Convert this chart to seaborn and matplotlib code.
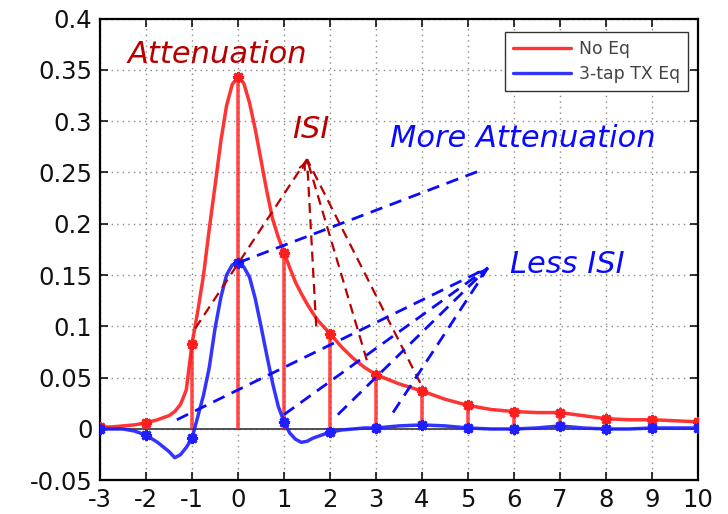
import numpy as np
import pandas as pd
import matplotlib
matplotlib.use("Agg")
import matplotlib.pyplot as plt
import seaborn as sns

# Pulse response samples (time in UI)
t_ui = [-3, -2.75, -2.5, -2.25, -2, -1.75, -1.5, -1.375, -1.25, -1.125,
        -1, -0.875, -0.75, -0.625, -0.5, -0.375, -0.25, -0.125,
        0, 0.125, 0.25, 0.375, 0.5, 0.625, 0.75, 0.875,
        1, 1.125, 1.25, 1.375, 1.5, 1.625, 1.75, 1.875,
        2, 2.25, 2.5, 2.75, 3, 3.5, 4, 4.5, 5, 5.5, 6, 6.5, 7, 7.5, 8, 8.5, 9, 9.5, 10]
no_eq = [0.002, 0.002, 0.003, 0.004, 0.006, 0.009, 0.013, 0.017, 0.024, 0.038,
         0.083, 0.115, 0.150, 0.195, 0.237, 0.280, 0.315, 0.336,
         0.343, 0.337, 0.318, 0.292, 0.262, 0.232, 0.205, 0.187,
         0.172, 0.157, 0.143, 0.132, 0.122, 0.113, 0.105, 0.099,
         0.093, 0.080, 0.069, 0.060, 0.053, 0.044, 0.037, 0.029, 0.023, 0.019, 0.017, 0.016,
         0.016, 0.013, 0.010, 0.009, 0.009, 0.008, 0.007]
tx_eq = [0.000, 0.000, 0.000, -0.002, -0.006, -0.013, -0.022, -0.028, -0.025, -0.018,
         -0.009, 0.012, 0.033, 0.060, 0.098, 0.128, 0.150, 0.160,
         0.162, 0.158, 0.148, 0.127, 0.100, 0.072, 0.045, 0.022,
         0.007, -0.004, -0.010, -0.013, -0.012, -0.009, -0.007, -0.005,
         -0.003, -0.001, 0.000, 0.001, 0.001, 0.003, 0.004, 0.003, 0.001, 0.000, 0.000, 0.001,
         0.003, 0.001, 0.000, 0.000, 0.001, 0.001, 0.001]
series_names = ["No Eq", "3-tap TX Eq"]

x_ticks = list(range(-3, 11))
y_ticks = [-0.05, 0, 0.05, 0.1, 0.15, 0.2, 0.25, 0.3, 0.35, 0.4]
y_tick_labels = ["-0.05", "0", "0.05", "0.1", "0.15", "0.2", "0.25", "0.3", "0.35", "0.4"]

# Callout geometry (data coordinates)
isi_apex = (1.5, 0.263)
isi_ends = [(-0.93, 0.098), (1.70, 0.100), (2.80, 0.067), (3.96, 0.045)]
more_att_line = [(0.0, 0.162), (5.33, 0.253)]
less_isi_apex = (5.43, 0.157)
less_isi_ends = [(-1.33, 0.009), (1.0, 0.014), (2.17, 0.014), (3.37, 0.016)]

RED = "#ff1e1e"
BLUE = "#1e1eff"
DARK_RED = "#b80000"
TEXT_BLUE = "#0a0aff"

sns.set_style("ticks")
plt.rcParams["font.family"] = ["DejaVu Sans"]

df = pd.DataFrame({
    "t": t_ui * 2,
    "v": no_eq + tx_eq,
    "series": [series_names[0]] * len(t_ui) + [series_names[1]] * len(t_ui),
})

fig = plt.figure(figsize=(7.28, 5.14), dpi=100)
ax = fig.add_axes([0.1374, 0.0656, 0.8214, 0.8982])

# grid and zero reference
ax.set_axisbelow(True)
ax.grid(True, linestyle=(0, (1, 3)), color="#8a8a8a", linewidth=1.0)
ax.axhline(0, color="#444444", linewidth=1.3, zorder=1)

# stems and sample markers at integer UI
samples = df[df["t"] % 1 == 0]
red_s = samples[samples["series"] == series_names[0]]
blue_s = samples[samples["series"] == series_names[1]]
ax.vlines(red_s["t"], 0, red_s["v"], color=RED, linewidth=2.6, alpha=0.8, zorder=2)

sns.lineplot(data=df, x="t", y="v", hue="series", palette=[RED, BLUE],
             linewidth=2.5, ax=ax, zorder=3, alpha=0.9)
asterisk = (8, 2, 0)
ax.plot(red_s["t"], red_s["v"], linestyle="none", marker=asterisk, markersize=8,
        markeredgewidth=2.0, color=RED, zorder=4)
ax.plot(blue_s["t"], blue_s["v"], linestyle="none", marker=asterisk, markersize=8,
        markeredgewidth=2.0, color=BLUE, zorder=4)

# ISI callout lines
dash = (0, (4.5, 2.8))
for (xe, ye) in isi_ends:
    ax.plot([xe, isi_apex[0]], [ye, isi_apex[1]], color=DARK_RED, linewidth=1.6,
            linestyle=dash, zorder=5)
ax.annotate("", xy=isi_apex, xytext=(isi_apex[0] - 0.12, isi_apex[1] - 0.011),
            arrowprops=dict(arrowstyle="->", color=DARK_RED, lw=1.5,
                            mutation_scale=10), zorder=5)

# attenuation / less-ISI callout lines
ax.plot([p[0] for p in more_att_line], [p[1] for p in more_att_line],
        color=TEXT_BLUE, linewidth=2.0, linestyle=dash, zorder=5)
for (xe, ye) in less_isi_ends:
    ax.plot([xe, less_isi_apex[0]], [ye, less_isi_apex[1]], color=TEXT_BLUE,
            linewidth=2.0, linestyle=dash, zorder=5)
ax.annotate("", xy=less_isi_apex, xytext=(less_isi_apex[0] - 0.2, less_isi_apex[1] - 0.007),
            arrowprops=dict(arrowstyle="->", color=TEXT_BLUE, lw=1.6,
                            mutation_scale=10), zorder=5)

callout_font = dict(family="DejaVu Sans", style="italic", fontsize=22)
ax.text(-2.41, 0.357, "Attenuation", color=DARK_RED, ha="left", va="baseline", **callout_font)
ax.text(1.17, 0.284, "ISI", color=DARK_RED, ha="left", va="baseline", **callout_font)
ax.text(3.30, 0.275, "More Attenuation", color=TEXT_BLUE, ha="left", va="baseline", **callout_font)
ax.text(5.91, 0.152, "Less ISI", color=TEXT_BLUE, ha="left", va="baseline", **callout_font)

# axes frame, ticks
ax.set_xlim(-3, 10)
ax.set_ylim(-0.05, 0.4)
ax.set_xticks(x_ticks)
ax.set_xticklabels([str(v) for v in x_ticks])
ax.set_yticks(y_ticks)
ax.set_yticklabels(y_tick_labels)
ax.tick_params(direction="in", length=6, width=1.2, top=True, right=True,
               labelsize=17.5, colors="#111111", pad=5.5)
for s in ax.spines.values():
    s.set_visible(True)
    s.set_color("#000000")
    s.set_linewidth(1.6)
ax.set_xlabel("")
ax.set_ylabel("")

leg = ax.legend(loc="upper right", bbox_to_anchor=(0.983, 0.971), borderaxespad=0,
                frameon=True, fancybox=False, framealpha=1, edgecolor="#333333",
                prop={"family": "DejaVu Sans", "size": 12.4},
                handlelength=3.4, handletextpad=0.45, labelspacing=0.45,
                borderpad=0.45)
leg.get_frame().set_linewidth(1.0)
for txt in leg.get_texts():
    txt.set_color("#444444")
for ln in leg.get_lines():
    ln.set_linewidth(2.4)

fig.savefig("out.png", dpi=100)
